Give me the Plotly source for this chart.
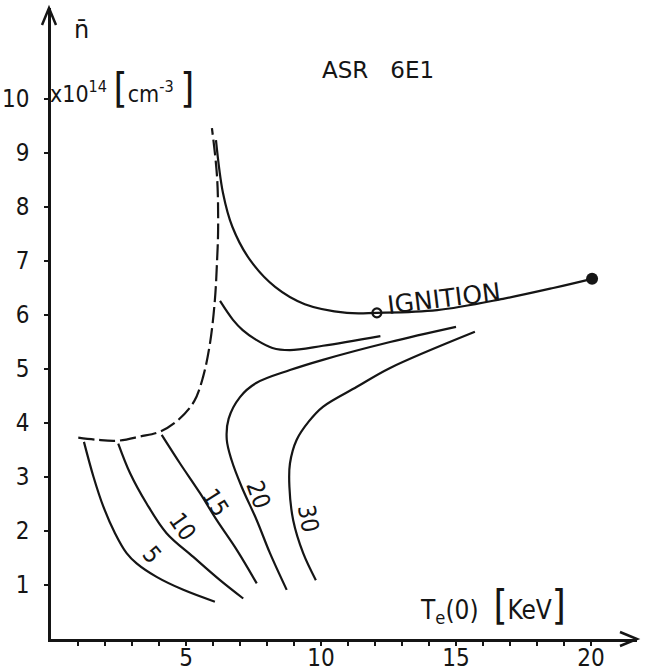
import plotly.graph_objects as go

# Central electron temperature Te(0) in keV and mean density n in 1e14 cm^-3

# Dashed operating boundary
boundary_T = [1.01, 1.69, 2.43, 3.3, 4.04, 4.72, 5.3, 5.63, 5.89, 6.07, 6.15, 6.19, 6.15, 5.96]
boundary_n = [3.73, 3.69, 3.67, 3.75, 3.84, 4.06, 4.4, 4.85, 5.48, 6.28, 7.0, 7.6, 8.56, 9.46]

# Ignition curve, ending at the filled point
ignition_T = [6.11, 6.37, 6.72, 7.37, 8.3, 9.4, 10.96, 12.07, 14.3, 16.74, 18.6, 20.04]
ignition_n = [9.24, 8.26, 7.63, 7.02, 6.52, 6.2, 6.04, 6.04, 6.09, 6.3, 6.5, 6.67]
ignition_open_T = 12.07  # open marker on the ignition curve

# Unlabelled branch starting on the boundary
branch_T = [6.26, 6.74, 7.1, 7.6, 8.2, 8.85, 10.07, 12.2]
branch_n = [6.26, 5.91, 5.72, 5.54, 5.39, 5.35, 5.43, 5.61]

# Labelled curves
curve_labels = ["5", "10", "15", "20", "30"]
curve_5_T = [1.22, 1.57, 1.94, 2.37, 2.8, 3.17, 3.91, 4.9, 6.07]
curve_5_n = [3.65, 3.01, 2.45, 1.96, 1.59, 1.4, 1.15, 0.91, 0.69]
curve_10_T = [2.49, 2.93, 3.54, 4.28, 5.27, 6.26, 7.12]
curve_10_n = [3.62, 3.07, 2.51, 1.96, 1.52, 1.09, 0.75]
curve_15_T = [4.1, 4.78, 5.52, 6.14, 6.88, 7.62]
curve_15_n = [3.78, 3.25, 2.7, 2.2, 1.65, 1.03]
curve_20_T = [15.0, 12.56, 10.07, 8.85, 7.6, 7.0, 6.58, 6.51, 6.69, 7.06, 7.62, 8.11, 8.73]
curve_20_n = [5.78, 5.5, 5.17, 4.98, 4.74, 4.48, 4.08, 3.69, 3.31, 2.82, 2.2, 1.59, 0.91]
curve_30_T = [15.7, 12.56, 11.33, 10.07, 9.55, 9.1, 8.85, 8.83, 8.97, 9.34, 9.81]
curve_30_n = [5.69, 5.02, 4.67, 4.3, 4.03, 3.69, 3.25, 2.82, 2.2, 1.59, 1.09]
curves_T = [curve_5_T, curve_10_T, curve_15_T, curve_20_T, curve_30_T]
curves_n = [curve_5_n, curve_10_n, curve_15_n, curve_20_n, curve_30_n]

x_ticks = list(range(1, 21))
x_tick_text = [str(v) if v % 5 == 0 else "" for v in x_ticks]
y_ticks = list(range(1, 11))
y_tick_text = [str(v) for v in y_ticks]

# Page geometry (pixels)
W, H = 646, 671
ML, MR, MT, MB = 51, 9, 8, 32
PX_PER_T = 27.0
PX_PER_N = 54.0
plot_w = W - ML - MR
plot_h = H - MT - MB

INK = "#151515"
NARROW = "Liberation Sans Narrow, DejaVu Sans Condensed, Liberation Sans, sans-serif"
WIDE = "DejaVu Sans, sans-serif"
LINE_W = 2.2


def paper(px, py):
    """Page pixel position -> paper coordinates."""
    return (px - ML) / plot_w, (H - MB - py) / plot_h


def curve(xs, ys, dash="solid"):
    fig.add_trace(go.Scatter(
        x=xs, y=ys, mode="lines",
        line=dict(color=INK, width=LINE_W, dash=dash, shape="spline", smoothing=1.0),
        hoverinfo="skip"))


fig = go.Figure()

curve(boundary_T, boundary_n, dash="16px,5px")
curve(ignition_T, ignition_n)
curve(branch_T, branch_n)
for cT, cn in zip(curves_T, curves_n):
    curve(cT, cn)

# Ignition markers: open point and filled end point
i_open = ignition_T.index(ignition_open_T)
fig.add_trace(go.Scatter(
    x=[ignition_T[i_open]], y=[ignition_n[i_open]], mode="markers",
    marker=dict(symbol="circle-open", size=9, color=INK, line=dict(width=2.2)),
    hoverinfo="skip"))
fig.add_trace(go.Scatter(
    x=[ignition_T[-1]], y=[ignition_n[-1]], mode="markers",
    marker=dict(symbol="circle", size=12, color=INK),
    hoverinfo="skip"))

axis_common = dict(
    showgrid=False, zeroline=False, showline=True, linecolor=INK, linewidth=2.5,
    ticks="outside", ticklen=4, tickwidth=2, tickcolor=INK, automargin=False,
    tickfont=dict(family=NARROW, size=24, color=INK),
)

fig.update_layout(
    width=W, height=H,
    margin=dict(l=ML, r=MR, t=MT, b=MB),
    paper_bgcolor="white", plot_bgcolor="white",
    showlegend=False,
    xaxis=dict(range=[0, plot_w / PX_PER_T], tickvals=x_ticks, ticktext=x_tick_text,
               ticklabelstandoff=-9, **axis_common),
    yaxis=dict(range=[0, plot_h / PX_PER_N], tickvals=y_ticks, ticktext=y_tick_text,
               ticklabelstandoff=10, **axis_common),
)

# Open "V" arrow heads at the ends of both axes
head_len, head_half = 17, 7
ax_tip = paper(W - MR, H - MB)
fig.add_shape(type="path", xref="paper", yref="paper",
              path=(f"M {ax_tip[0] - head_len / plot_w} {ax_tip[1] + head_half / plot_h} "
                    f"L {ax_tip[0]} {ax_tip[1]} "
                    f"L {ax_tip[0] - head_len / plot_w} {ax_tip[1] - head_half / plot_h}"),
              line=dict(color=INK, width=2.5))
ay_tip = paper(ML - 2, MT)
fig.add_shape(type="path", xref="paper", yref="paper",
              path=(f"M {ay_tip[0] - head_half / plot_w} {ay_tip[1] - head_len / plot_h} "
                    f"L {ay_tip[0]} {ay_tip[1]} "
                    f"L {ay_tip[0] + head_half / plot_w} {ay_tip[1] - head_len / plot_h}"),
              line=dict(color=INK, width=2.5))


def label(text, px, py, size, family=NARROW, angle=0, xanchor="center"):
    x, y = paper(px, py)
    fig.add_annotation(text=text, x=x, y=y, xref="paper", yref="paper",
                       showarrow=False, textangle=angle, xanchor=xanchor, yanchor="middle",
                       font=dict(family=family, size=size, color=INK))


# Axis titles
label("n\u0304", 81, 30, 24, family=WIDE)
label("x10<sup>14</sup> <span style='font-size:40px'>[</span>cm<sup>-3</sup> "
      "<span style='font-size:40px'>]</span>",
      48, 88, 23, xanchor="left")
label("T<sub>e</sub>(0)  <span style='font-size:40px'>[</span>KeV<span style='font-size:40px'>]</span>",
      418, 605, 26, xanchor="left")

label("ASR   6E1", 378, 70, 23, family=WIDE)
label("IGNITION", 444, 298, 25, family=WIDE, angle=-7)

# Curve labels written along the curves
label_pos = [(152, 555, 50), (182, 526, 55), (215, 502, 58), (258, 494, 70), (308, 518, 80)]
for txt, (px, py, ang) in zip(curve_labels, label_pos):
    label(txt, px, py, 24, angle=ang)

fig.write_html("out.html")
